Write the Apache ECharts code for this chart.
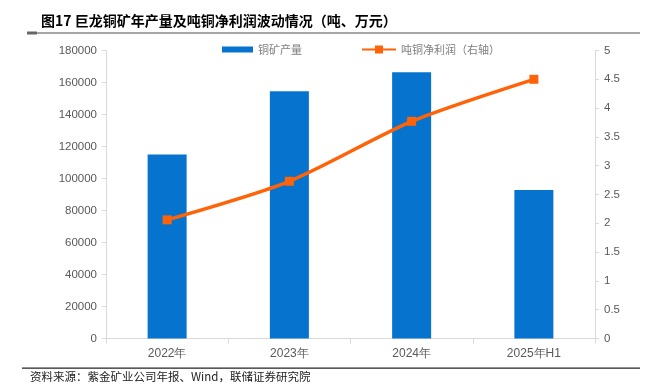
<!DOCTYPE html>
<html><head><meta charset="utf-8">
<script src="https://cdn.jsdelivr.net/npm/echarts@6/dist/echarts.min.js"></script>
<style>html,body{margin:0;padding:0;background:#fff}#c{width:652px;height:392px}</style>
</head><body><div id="c"></div>
<script>
const categories = ['2022年', '2023年', '2024年', '2025年H1'];
const production = [115000, 154500, 166400, 92800];
const profit = [2.06, 2.73, 3.77, 4.5];
const leftTicks = [0, 180000, 20000];
const rightTicks = [0, 5, 0.5];

const chart = echarts.init(document.getElementById('c'));
const lab = {color: '#595959', fontSize: 12, fontFamily: 'Liberation Sans, Arial, sans-serif'};
const legText = {color: '#7f7f7f', fontSize: 11, fontFamily: 'Noto Sans CJK SC'};
chart.setOption({
  animation: false,
  title: {
    text: '图17 巨龙铜矿年产量及吨铜净利润波动情况（吨、万元）',
    left: 36, top: 9,
    textStyle: {fontSize: 14, fontWeight: 'bold', color: '#000', fontFamily: 'Noto Sans CJK SC'}
  },
  legend: [{
    top: 39, left: 217, itemWidth: 31, itemHeight: 6, itemGap: 4,
    textStyle: legText,
    data: [{name: '铜矿产量', icon: 'rect'}]
  }, {
    top: 39, left: 356, itemWidth: 34, itemHeight: 10,
    textStyle: legText,
    data: [{name: '吨铜净利润（右轴）'}]
  }],
  grid: {left: 106, right: 57, top: 50.5, bottom: 53.5},
  xAxis: {
    type: 'category', data: categories,
    axisLine: {lineStyle: {color: '#d9d9d9'}},
    axisTick: {show: true, alignWithLabel: false, length: 5, lineStyle: {color: '#d9d9d9'}},
    axisLabel: Object.assign({margin: 9}, lab)
  },
  yAxis: [{
    type: 'value', min: leftTicks[0], max: leftTicks[1], interval: leftTicks[2],
    axisLine: {show: true, lineStyle: {color: '#d9d9d9'}},
    axisTick: {show: true, length: 4, lineStyle: {color: '#d9d9d9'}},
    splitLine: {show: false},
    axisLabel: Object.assign({margin: 9, formatter: v => String(v)}, lab, {fontSize: 11.5})
  }, {
    type: 'value', min: rightTicks[0], max: rightTicks[1], interval: rightTicks[2],
    position: 'right',
    axisLine: {show: true, lineStyle: {color: '#d9d9d9'}},
    axisTick: {show: true, length: 4, lineStyle: {color: '#d9d9d9'}},
    splitLine: {show: false},
    axisLabel: Object.assign({margin: 9, formatter: v => String(v)}, lab, {fontSize: 11.5})
  }],
  series: [{
    name: '铜矿产量', type: 'bar', data: production, barWidth: 39,
    itemStyle: {color: '#0674CF'}
  }, {
    name: '吨铜净利润（右轴）', type: 'line', yAxisIndex: 1, data: profit,
    smooth: 0.25, symbol: 'rect', symbolSize: 9,
    lineStyle: {color: '#FF6309', width: 3.5},
    itemStyle: {color: '#FF6309'}
  }],
  graphic: [
    {type: 'rect', shape: {x: 27, y: 32, width: 613, height: 2}, style: {fill: '#a6a6a6'}},
    {type: 'rect', shape: {x: 27, y: 31.5, width: 10, height: 3}, style: {fill: '#666'}},
    {type: 'rect', shape: {x: 22, y: 367.5, width: 618, height: 1.2}, style: {fill: '#222'}},
    {type: 'text', left: 30, top: 371, style: {text: '资料来源：紫金矿业公司年报、Wind，联储证券研究院', fill: '#222', fontSize: 11.5, fontFamily: 'Noto Sans CJK SC'}}
  ]
});
</script></body></html>
